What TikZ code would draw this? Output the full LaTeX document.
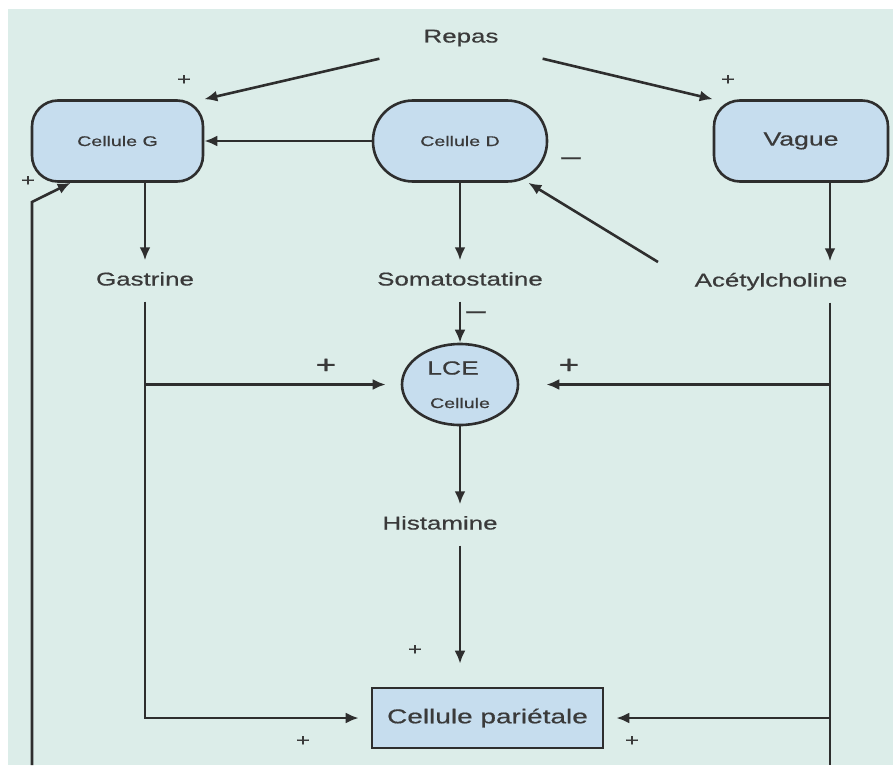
\documentclass[tikz,border=0pt]{standalone}
\usepackage{fontspec}
\setmainfont{Liberation Sans}[FakeStretch=1.4,FakeBold=0.6]
\usetikzlibrary{arrows.meta,shapes.geometric}
\definecolor{bgteal}{HTML}{DCEDE9}
\definecolor{cellblue}{HTML}{C6DDEE}
\definecolor{inkgray}{HTML}{2E2E2E}
\definecolor{txtgray}{HTML}{3A3A3A}

\begin{document}
\begin{tikzpicture}[x=1pt, y=-1pt,
  every node/.style={text=txtgray},
  cell/.style={draw=inkgray, line width=2.6pt, fill=cellblue, minimum height=81pt, inner sep=0pt},
  lbl/.style={font=\fontsize{18.5}{20}\selectfont, text height=13pt, text depth=4pt, inner xsep=2pt, inner ysep=12pt},
  sgn/.style={font=\fontsize{17}{19}\selectfont, inner sep=0pt},
  bigsgn/.style={font=\fontsize{25}{27}\selectfont, inner sep=0pt},
  wire/.style={draw=inkgray, line width=2.6pt},
  arr/.style={wire, -{Latex[length=13pt,width=11pt]}}]

  \useasboundingbox (0,0) rectangle (893,765);
  \fill[white] (0,0) rectangle (893,765);
  \fill[bgteal] (8,9) rectangle (893,765);

  % cells
  \node[lbl, inner xsep=44pt] (repas) at (461,38) {Repas};
  \node[cell, rounded corners=26pt, minimum width=171pt] (celG) at (117.5,141) {\fontsize{14}{16}\selectfont Cellule G};
  \node[cell, rounded corners=40pt, minimum width=174pt] (celD) at (460,141) {\fontsize{14}{16}\selectfont Cellule D};
  \node[cell, rounded corners=26pt, minimum width=174pt] (vague) at (801,141) {\fontsize{19}{21}\selectfont Vague\hspace{12pt}};
  \node[cell, ellipse, minimum width=116pt] (lce) at (460,384.5) {};
  \node[inner sep=0pt, font=\fontsize{19}{21}\selectfont] (lcetxt) at (453,368) {LCE};
  \node[inner sep=0pt, font=\fontsize{14}{16}\selectfont] (lcesub) at (460,403) {Cellule};
  \node[cell, minimum width=231pt, minimum height=60pt] (pariet) at (487.5,718) {\fontsize{20}{22}\selectfont Cellule pariétale};

  % messengers
  \node[lbl] (gastrine) at (145,281) {Gastrine};
  \node[lbl] (somato) at (460,281) {Somatostatine};
  \node[lbl] (acetyl) at (771,282) {Acétylcholine};
  \node[lbl] (histamine) at (440,525) {Histamine};

  \coordinate (achline) at (830,765);
  \coordinate (achtail) at (658,262);
  \coordinate (fbfoot) at (32,765);
  \coordinate (fbknee) at (32,202);

  % connectors
  \draw[arr] (repas.south west) -- (celG.north east);
  \draw[arr] (repas.south east) -- (vague.north west);
  \draw[arr] (celD) -- (celG);
  \draw[arr] (achtail) -- (celD);
  \draw[arr] (celG.south -| gastrine) -- (gastrine);
  \draw[arr] (celD) -- (somato);
  \draw[arr] (vague.south -| achline) -- (acetyl.north -| achline);
  \draw[arr] (somato) -- (lce);
  \draw[arr, shorten >=12pt] (gastrine) |- (pariet);
  \draw[arr, shorten >=15pt] (gastrine |- lce) -- (lce);
  \draw[wire] (acetyl.south -| achline) -- (achline);
  \draw[arr, shorten >=27pt] (achline |- lce) -- (lce);
  \draw[arr, shorten >=12pt] (achline |- pariet) -- (pariet);
  \draw[arr] (lce) -- (lce |- histamine.north);
  \draw[arr, shorten >=23pt] (histamine.south -| lce) -- (pariet.north -| lce);
  \draw[arr] (fbfoot) -- (fbknee) -- ([xshift=40pt]celG.south west);

  % signs
  \node[sgn] (pRG) at (184,80) {+};
  \node[sgn] (pRV) at (728,80) {+};
  \node[sgn] (pFB) at (28,181) {+};
  \node[bigsgn] (mAD) at (571,161) {–};
  \node[bigsgn] (mSL) at (476,315) {–};
  \node[bigsgn] (pGL) at (326,366) {+};
  \node[bigsgn] (pAL) at (569,366) {+};
  \node[sgn] (pHP) at (415,650) {+};
  \node[sgn] (pGP) at (303,741) {+};
  \node[sgn] (pAP) at (632,741) {+};
\end{tikzpicture}
\end{document}
